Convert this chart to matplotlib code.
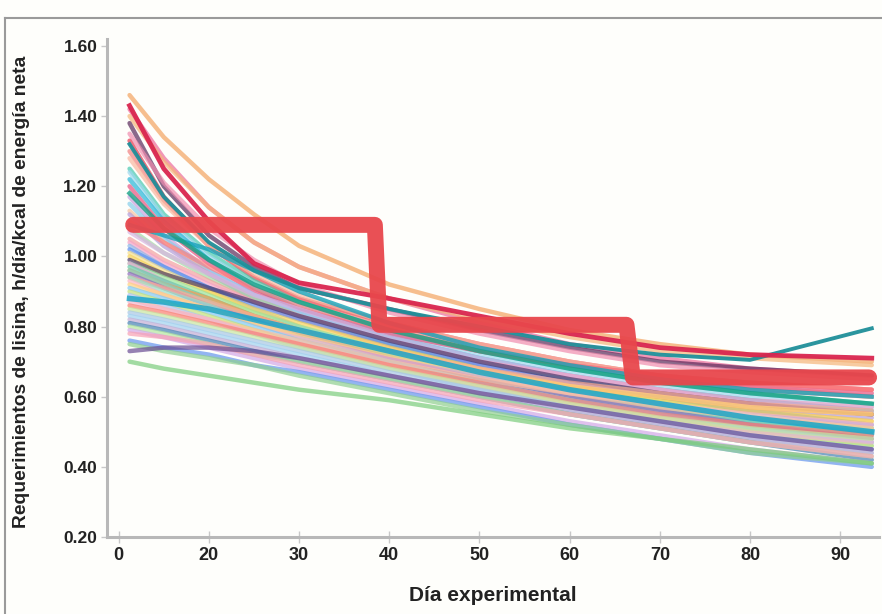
import matplotlib
matplotlib.use("Agg")
import matplotlib.pyplot as plt
from matplotlib.lines import Line2D

plt.rcParams['font.family'] = ['Liberation Sans', 'DejaVu Sans']

# Experimental days at which each curve is read
days = [11.2, 15, 20, 25, 30, 40, 50, 60, 70, 80, 93.5]

# Individual lysine requirement curves (value per day)
curves = [
    [1.46, 1.34, 1.22, 1.12, 1.03, 0.92, 0.85, 0.79, 0.75, 0.72, 0.70],
    [1.42, 1.28, 1.14, 1.04, 0.97, 0.88, 0.81, 0.75, 0.71, 0.68, 0.66],
    [1.40, 1.27, 1.14, 1.04, 0.97, 0.88, 0.82, 0.77, 0.73, 0.71, 0.69],
    [1.38, 1.20, 1.06, 0.97, 0.91, 0.85, 0.79, 0.74, 0.70, 0.68, 0.66],
    [1.35, 1.21, 1.08, 0.99, 0.92, 0.84, 0.78, 0.73, 0.69, 0.67, 0.65],
    [1.33, 1.17, 1.03, 0.94, 0.88, 0.81, 0.75, 0.70, 0.66, 0.64, 0.62],
    [1.30, 1.16, 1.03, 0.94, 0.88, 0.80, 0.74, 0.69, 0.65, 0.62, 0.60],
    [1.28, 1.15, 1.03, 0.95, 0.89, 0.81, 0.75, 0.70, 0.66, 0.63, 0.60],
    [1.25, 1.12, 1.01, 0.93, 0.87, 0.79, 0.73, 0.68, 0.64, 0.61, 0.58],
    [1.24, 1.11, 1.00, 0.92, 0.86, 0.78, 0.72, 0.67, 0.63, 0.60, 0.57],
    [1.22, 1.10, 0.99, 0.91, 0.85, 0.77, 0.71, 0.66, 0.62, 0.59, 0.56],
    [1.20, 1.08, 0.98, 0.90, 0.85, 0.78, 0.73, 0.69, 0.66, 0.63, 0.61],
    [1.17, 1.06, 0.96, 0.89, 0.84, 0.76, 0.70, 0.65, 0.61, 0.58, 0.55],
    [1.15, 1.05, 0.96, 0.89, 0.84, 0.76, 0.70, 0.65, 0.61, 0.58, 0.55],
    [1.13, 1.04, 0.95, 0.88, 0.83, 0.75, 0.69, 0.64, 0.60, 0.56, 0.53],
    [1.12, 1.03, 0.95, 0.88, 0.83, 0.75, 0.69, 0.64, 0.60, 0.57, 0.54],
    [1.10, 1.04, 0.97, 0.91, 0.86, 0.79, 0.73, 0.69, 0.66, 0.64, 0.62],
    [1.08, 1.01, 0.94, 0.88, 0.83, 0.75, 0.68, 0.63, 0.59, 0.55, 0.51],
    [1.07, 1.01, 0.95, 0.89, 0.85, 0.77, 0.71, 0.66, 0.62, 0.58, 0.55],
    [1.05, 0.99, 0.93, 0.87, 0.82, 0.74, 0.67, 0.62, 0.58, 0.54, 0.50],
    [1.04, 0.98, 0.92, 0.87, 0.83, 0.76, 0.70, 0.66, 0.62, 0.59, 0.57],
    [1.03, 0.97, 0.91, 0.85, 0.80, 0.72, 0.66, 0.61, 0.57, 0.53, 0.49],
    [1.02, 0.97, 0.91, 0.86, 0.82, 0.75, 0.69, 0.64, 0.60, 0.56, 0.52],
    [1.01, 0.96, 0.90, 0.84, 0.79, 0.71, 0.65, 0.60, 0.56, 0.52, 0.48],
    [1.00, 0.95, 0.90, 0.85, 0.81, 0.74, 0.68, 0.63, 0.59, 0.56, 0.53],
    [0.99, 0.95, 0.91, 0.87, 0.83, 0.76, 0.70, 0.65, 0.61, 0.58, 0.55],
    [0.98, 0.94, 0.89, 0.84, 0.80, 0.73, 0.67, 0.62, 0.58, 0.54, 0.51],
    [0.98, 0.93, 0.87, 0.82, 0.77, 0.70, 0.64, 0.59, 0.55, 0.51, 0.47],
    [0.97, 0.93, 0.88, 0.83, 0.79, 0.72, 0.66, 0.61, 0.57, 0.53, 0.50],
    [0.96, 0.92, 0.88, 0.83, 0.79, 0.73, 0.67, 0.63, 0.60, 0.57, 0.55],
    [0.96, 0.92, 0.87, 0.82, 0.78, 0.71, 0.65, 0.60, 0.56, 0.52, 0.49],
    [0.95, 0.91, 0.86, 0.82, 0.78, 0.71, 0.65, 0.60, 0.56, 0.52, 0.48],
    [0.94, 0.91, 0.87, 0.83, 0.79, 0.73, 0.68, 0.64, 0.61, 0.58, 0.56],
    [0.94, 0.90, 0.86, 0.81, 0.77, 0.70, 0.64, 0.59, 0.54, 0.50, 0.46],
    [0.93, 0.89, 0.85, 0.81, 0.77, 0.71, 0.66, 0.61, 0.58, 0.55, 0.52],
    [0.92, 0.89, 0.85, 0.81, 0.78, 0.72, 0.67, 0.63, 0.60, 0.57, 0.55],
    [0.91, 0.88, 0.84, 0.80, 0.76, 0.70, 0.64, 0.59, 0.55, 0.51, 0.47],
    [0.90, 0.87, 0.83, 0.79, 0.75, 0.69, 0.63, 0.58, 0.54, 0.50, 0.46],
    [0.89, 0.86, 0.82, 0.78, 0.74, 0.68, 0.62, 0.57, 0.53, 0.49, 0.45],
    [0.88, 0.85, 0.82, 0.79, 0.76, 0.70, 0.65, 0.61, 0.57, 0.54, 0.51],
    [0.87, 0.85, 0.82, 0.78, 0.75, 0.69, 0.63, 0.58, 0.54, 0.50, 0.47],
    [0.86, 0.84, 0.81, 0.78, 0.75, 0.69, 0.64, 0.59, 0.55, 0.52, 0.49],
    [0.85, 0.83, 0.80, 0.77, 0.74, 0.68, 0.63, 0.58, 0.54, 0.51, 0.48],
    [0.84, 0.82, 0.79, 0.76, 0.73, 0.67, 0.62, 0.57, 0.53, 0.49, 0.45],
    [0.83, 0.81, 0.78, 0.75, 0.72, 0.66, 0.61, 0.56, 0.52, 0.48, 0.44],
    [0.82, 0.80, 0.77, 0.74, 0.71, 0.66, 0.61, 0.56, 0.52, 0.48, 0.44],
    [0.81, 0.79, 0.76, 0.73, 0.70, 0.65, 0.60, 0.55, 0.51, 0.47, 0.42],
    [0.80, 0.78, 0.75, 0.72, 0.70, 0.65, 0.60, 0.55, 0.51, 0.47, 0.43],
    [0.79, 0.77, 0.74, 0.71, 0.68, 0.63, 0.58, 0.53, 0.49, 0.45, 0.41],
    [0.78, 0.77, 0.75, 0.72, 0.69, 0.64, 0.59, 0.55, 0.51, 0.47, 0.43],
    [0.76, 0.74, 0.72, 0.69, 0.67, 0.62, 0.57, 0.52, 0.48, 0.44, 0.40],
    [0.75, 0.73, 0.71, 0.69, 0.66, 0.61, 0.56, 0.52, 0.48, 0.44, 0.41],
    [0.73, 0.74, 0.74, 0.73, 0.71, 0.66, 0.61, 0.57, 0.53, 0.49, 0.45],
    [0.70, 0.68, 0.66, 0.64, 0.62, 0.59, 0.55, 0.51, 0.48, 0.45, 0.41],
]
curve_colors = [
    '#f4a460', '#ee6a9a', '#f5b67a', '#5a2a5a', '#f08cae', '#e8384f',
    '#f08080', '#f9b8a0', '#48c9b0', '#9fd8ef', '#29b6d8', '#e75480',
    '#c9a0dc', '#87ceeb', '#f6c3a0', '#b39ddb', '#ff7f7f', '#a3d9a5',
    '#d8b4e2', '#f4a0a0', '#f5a3c7', '#8fb9e8', '#5b8def', '#f7e08a',
    '#f7d358', '#4b3b6b', '#9be39b', '#e3a6d4', '#66cdaa', '#f39c50',
    '#7ed3c4', '#8e6bbf', '#ffab91', '#98e0c8', '#fbb4c4', '#ffd27f',
    '#7fc8f8', '#c5e17a', '#b0c4f0', '#ffc09f', '#f3b6d0', '#fa8072',
    '#c8e6a0', '#a7c7e7', '#a0d2f0', '#c3aed6', '#4682b4', '#b5e7a0',
    '#d2a8e8', '#f7a1b5', '#6495ed', '#90d090', '#6a4c93', '#7ccd7c',
]

# Highlighted individual curves
main_curve = [1.43, 1.25, 1.10, 0.98, 0.925, 0.88, 0.83, 0.78, 0.74, 0.72, 0.71]
teal_curve = [1.32, 1.17, 1.04, 0.96, 0.91, 0.85, 0.80, 0.75, 0.72, 0.705, 0.795]
green_curve = [1.18, 1.08, 0.99, 0.92, 0.87, 0.79, 0.73, 0.68, 0.64, 0.61, 0.58]
cyan_curve = [0.88, 0.87, 0.85, 0.82, 0.79, 0.73, 0.67, 0.62, 0.58, 0.54, 0.50]
blob_curve = [1.09, 1.06, 1.02, 0.96, 0.90, 0.81, 0.74, 0.69, 0.65, 0.62, 0.60]

# Phase feeding program (step line)
step_days = [11.6, 38.4, 38.9, 66.3, 67.0, 93.2]
step_vals = [1.09, 1.09, 0.805, 0.805, 0.655, 0.655]

xticks = [10, 20, 30, 40, 50, 60, 70, 80, 90]
xtick_labels = ['0', '20', '30', '40', '50', '60', '70', '80', '90']
yticks = [0.20, 0.40, 0.60, 0.80, 1.00, 1.20, 1.40, 1.60]
ytick_labels = ['0.20', '0.40', '0.60', '0.80', '1.00', '1.20', '1.40', '1.60']

fig = plt.figure(figsize=(8.82, 6.14), dpi=100)
fig.patch.set_facecolor('#fefefb')
ax = fig.add_axes([107/882, 1 - 537/614, (879-107)/882, (537-46)/614])
ax.set_facecolor('#fefefb')

for vals, col in zip(curves, curve_colors):
    ax.plot(days, vals, color=col, lw=3.2, alpha=0.7, solid_capstyle='round',
            solid_joinstyle='round')

ax.plot(days, cyan_curve, color='#1ba6c9', lw=4.0, alpha=0.85)
ax.plot(days, blob_curve, color='#17a2b8', lw=3.0, alpha=0.8)
ax.plot(days, green_curve, color='#16a085', lw=3.2, alpha=0.8)
ax.plot(days, teal_curve, color='#1f8f99', lw=2.8, alpha=0.95)
ax.plot(days, main_curve, color='#d9264f', lw=3.4, alpha=0.95)

ax.plot(step_days, step_vals, color='#e8474c', lw=11.5, alpha=0.95,
        solid_capstyle='round', solid_joinstyle='round')

ax.set_xlim(8.7, 94.3)
ax.set_ylim(0.2, 1.6)
ax.set_xticks(xticks)
ax.set_xticklabels(xtick_labels, fontsize=13, fontweight='bold', color='#222222')
ax.set_yticks(yticks)
ax.set_yticklabels(ytick_labels, fontsize=12.5, fontweight='bold', color='#222222')

for side in ['top', 'right']:
    ax.spines[side].set_visible(False)
for side in ['left', 'bottom']:
    ax.spines[side].set_color('#b8b8b8')
    ax.spines[side].set_linewidth(2.2)
ax.spines['left'].set_bounds(0.2, 1.62)
ax.tick_params(axis='both', color='#c8c8c8', length=4, width=1)
ax.tick_params(axis='x', direction='inout', length=8, pad=3)
ax.tick_params(axis='y', pad=3)

ax.set_xlabel('Día experimental', fontsize=15, fontweight='bold', labelpad=16,
              color='#222222')
ax.set_ylabel('Requerimientos de lisina, h/día/kcal de energía neta', fontsize=13.9,
              fontweight='bold', color='#222222')
ax.yaxis.set_label_coords(-0.1, 0.50)

# figure border (top and left edges visible)
fig.add_artist(Line2D([5/882, 5/882], [0, 1 - 18/614], transform=fig.transFigure,
                      color='#9a9a9a', lw=1.5))
fig.add_artist(Line2D([5/882, 1], [1 - 18/614, 1 - 18/614], transform=fig.transFigure,
                      color='#9a9a9a', lw=1.5))

fig.savefig('out.png', dpi=100, facecolor=fig.get_facecolor())
